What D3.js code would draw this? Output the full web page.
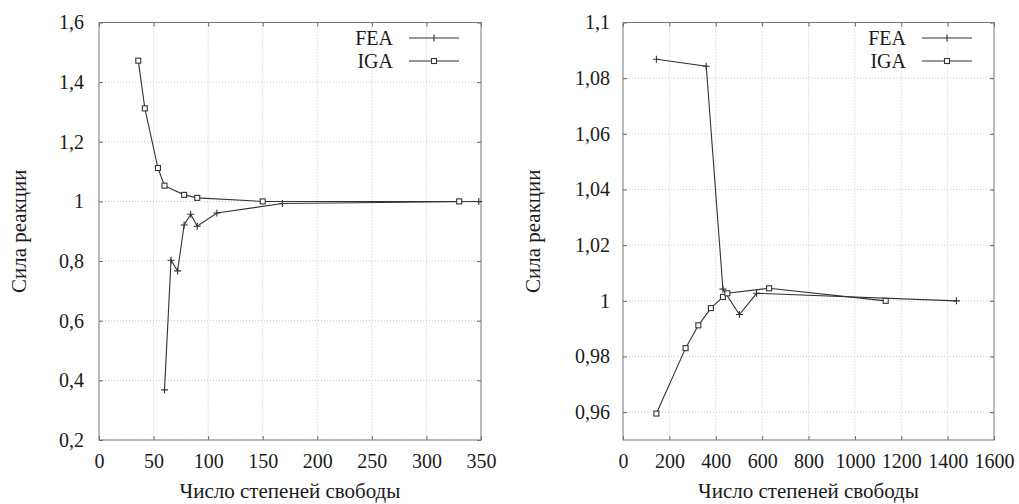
<!DOCTYPE html>
<html>
<head>
<meta charset="utf-8">
<script src="https://cdn.jsdelivr.net/npm/d3@7"></script>
<style>
  body { margin: 0; background: #fff; }
  svg { display: block; }
</style>
</head>
<body>
<svg id="chart" width="1019" height="504"></svg>
<script>
// left panel
const leftFeaX = [60, 66, 72, 78, 84, 90, 108, 168, 348];
const leftFeaY = [0.368, 0.803, 0.767, 0.921, 0.957, 0.917, 0.961, 0.993, 1.0];
const leftIgaX = [36, 42, 54, 60, 78, 90, 150, 330];
const leftIgaY = [1.472, 1.312, 1.112, 1.053, 1.022, 1.012, 1.0, 1.0];
const leftXTicks = [0, 50, 100, 150, 200, 250, 300, 350];
const leftYTicks = [0.2, 0.4, 0.6, 0.8, 1.0, 1.2, 1.4, 1.6];

// right panel
const rightFeaX = [144, 359, 431, 502, 576, 1438];
const rightFeaY = [1.0868, 1.0843, 1.0042, 0.9951, 1.0027, 1.0];
const rightIgaX = [144, 270, 325, 379, 431, 450, 630, 1133];
const rightIgaY = [0.9595, 0.983, 0.9912, 0.9974, 1.0014, 1.0027, 1.0045, 1.0];
const rightXTicks = [0, 200, 400, 600, 800, 1000, 1200, 1400, 1600];
const rightYTicks = [0.96, 0.98, 1.0, 1.02, 1.04, 1.06, 1.08, 1.1];

const xTitle = 'Число степеней свободы';
const yTitle = 'Сила реакции';
const seriesNames = ['FEA', 'IGA'];

const svg = d3.select('#chart');
const FONT = '"Liberation Serif", "Times New Roman", serif';
const fmt = v => String(+v.toFixed(4)).replace('.', ',');
const lineColor = '#333';

function styleText(sel, size) {
    return sel.style('font-family', FONT).style('font-size', (size || 20) + 'px').style('fill', '#1a1a1a');
}

function panel(opt) {
    const g = svg.append('g');
    const x = d3.scaleLinear().domain(opt.xDomain).range([opt.left, opt.right]);
    const y = d3.scaleLinear().domain(opt.yDomain).range([opt.bottom, opt.top]);

    // grid
    g.append('g').selectAll('line')
        .data(opt.xTicks.slice(1, -1))
        .enter().append('line')
        .attr('x1', d => x(d)).attr('x2', d => x(d))
        .attr('y1', opt.top).attr('y2', opt.bottom)
        .attr('stroke', '#c8c8c8').attr('stroke-dasharray', '1,2');
    g.append('g').selectAll('line')
        .data(opt.yTicks.filter(d => y(d) > opt.top + 1))
        .enter().append('line')
        .attr('x1', opt.left).attr('x2', opt.right)
        .attr('y1', d => y(d)).attr('y2', d => y(d))
        .attr('stroke', '#c8c8c8').attr('stroke-dasharray', '1,2');

    // axes (ticks pointing inward, mirrored)
    const ax = [
        g.append('g').attr('transform', `translate(0,${opt.bottom})`)
            .call(d3.axisBottom(x).tickValues(opt.xTicks).tickFormat(fmt).tickSize(-4).tickPadding(14)),
        g.append('g').attr('transform', `translate(0,${opt.top})`)
            .call(d3.axisTop(x).tickValues(opt.xTicks).tickFormat('').tickSize(-4)),
        g.append('g').attr('transform', `translate(${opt.left},0)`)
            .call(d3.axisLeft(y).tickValues(opt.yTicks).tickFormat(fmt).tickSize(-4).tickPadding(opt.yPad)),
        g.append('g').attr('transform', `translate(${opt.right},0)`)
            .call(d3.axisRight(y).tickValues(opt.yTicks).tickFormat('').tickSize(-4))
    ];
    ax.forEach(a => {
        a.attr('font-family', null).attr('font-size', null);
        a.select('.domain').remove();
        a.selectAll('.tick line').attr('stroke', '#666');
        styleText(a.selectAll('text'), 20);
    });

    g.append('rect')
        .attr('x', opt.left).attr('y', opt.top)
        .attr('width', opt.right - opt.left).attr('height', opt.bottom - opt.top)
        .attr('fill', 'none').attr('stroke', '#777').attr('stroke-width', 1);

    const line = d3.line().x(d => x(d[0])).y(d => y(d[1]));
    const fea = opt.feaX.map((v, i) => [v, opt.feaY[i]]);
    const iga = opt.igaX.map((v, i) => [v, opt.igaY[i]]);

    g.append('path').datum(fea).attr('d', line)
        .attr('fill', 'none').attr('stroke', lineColor).attr('stroke-width', 1.1);
    g.append('path').datum(iga).attr('d', line)
        .attr('fill', 'none').attr('stroke', lineColor).attr('stroke-width', 1.1);

    g.append('g').selectAll('path')
        .data(fea).enter().append('path')
        .attr('d', d => `M${x(d[0]) - 3.5},${y(d[1])}h7M${x(d[0])},${y(d[1]) - 3.5}v7`)
        .attr('stroke', lineColor).attr('stroke-width', 1.1);
    g.append('g').selectAll('rect')
        .data(iga).enter().append('rect')
        .attr('x', d => x(d[0]) - 2.5).attr('y', d => y(d[1]) - 2.5)
        .attr('width', 5).attr('height', 5)
        .attr('fill', '#fff').attr('stroke', lineColor).attr('stroke-width', 1.1);

    // legend
    const lg = g.append('g');
    seriesNames.forEach((name, i) => {
        const ly = 38 + i * 23;
        styleText(lg.append('text').attr('x', opt.right - 88).attr('y', ly).attr('dy', '0.35em')
            .attr('text-anchor', 'end').text(name), 20);
        const x1 = opt.right - 72, x2 = opt.right - 22, xm = (x1 + x2) / 2;
        lg.append('line').attr('x1', x1).attr('x2', x2).attr('y1', ly).attr('y2', ly)
            .attr('stroke', lineColor).attr('stroke-width', 1.1);
        if (i === 0) {
            lg.append('path').attr('d', `M${xm},${ly - 3.5}v7`)
                .attr('stroke', lineColor).attr('stroke-width', 1.1);
        } else {
            lg.append('rect').attr('x', xm - 2.5).attr('y', ly - 2.5).attr('width', 5).attr('height', 5)
                .attr('fill', '#fff').attr('stroke', lineColor).attr('stroke-width', 1.1);
        }
    });

    styleText(g.append('text')
        .attr('x', (opt.left + opt.right) / 2).attr('y', 498)
        .attr('text-anchor', 'middle').text(xTitle), 21);
    styleText(g.append('text')
        .attr('transform', `translate(${opt.yTitleX},${(opt.top + opt.bottom) / 2}) rotate(-90)`)
        .attr('text-anchor', 'middle').text(yTitle), 21);
}

panel({
    left: 99, right: 481, top: 22.5, bottom: 440,
    xDomain: [0, 350], yDomain: [0.2, 1.6],
    xTicks: leftXTicks, yTicks: leftYTicks, yPad: 15, yTitleX: 26,
    feaX: leftFeaX, feaY: leftFeaY, igaX: leftIgaX, igaY: leftIgaY
});
panel({
    left: 623, right: 994, top: 22.5, bottom: 440,
    xDomain: [0, 1600], yDomain: [0.95, 1.1],
    xTicks: rightXTicks, yTicks: rightYTicks, yPad: 13, yTitleX: 540,
    feaX: rightFeaX, feaY: rightFeaY, igaX: rightIgaX, igaY: rightIgaY
});
</script>
</body>
</html>
